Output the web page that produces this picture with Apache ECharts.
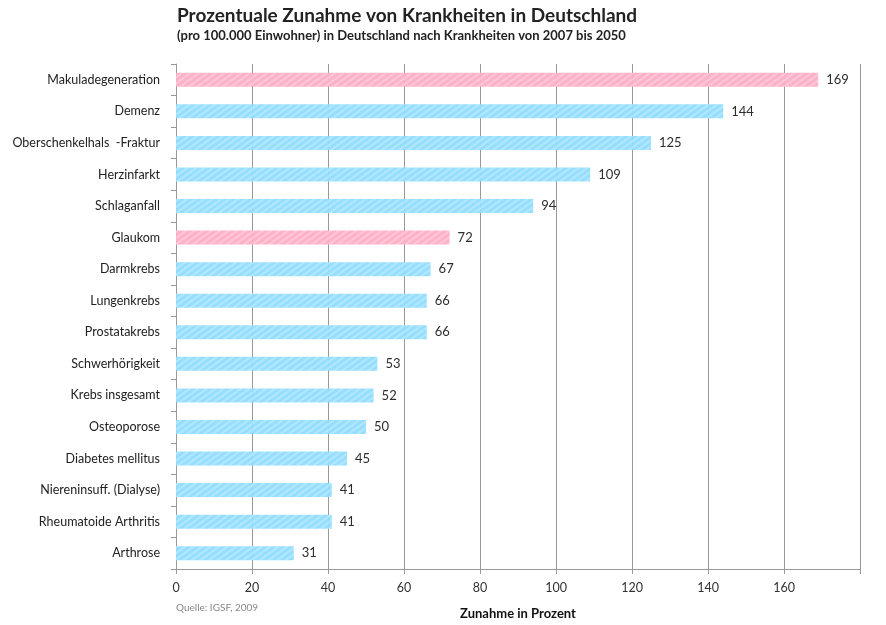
<!DOCTYPE html>
<html>
<head>
<meta charset="utf-8">
<script src="https://cdn.jsdelivr.net/npm/echarts@6/dist/echarts.min.js"></script>
<style>
  html, body { margin: 0; padding: 0; background: #fff; }
  #chart { width: 886px; height: 625px; }
</style>
</head>
<body>
<div id="chart"></div>
<script>
const categories = [
  "Makuladegeneration", "Demenz", "Oberschenkelhals  -Fraktur", "Herzinfarkt",
  "Schlaganfall", "Glaukom", "Darmkrebs", "Lungenkrebs", "Prostatakrebs",
  "Schwerhörigkeit", "Krebs insgesamt", "Osteoporose", "Diabetes mellitus",
  "Niereninsuff. (Dialyse)", "Rheumatoide Arthritis", "Arthrose"
];
const values = [169, 144, 125, 109, 94, 72, 67, 66, 66, 53, 52, 50, 45, 41, 41, 31];
const highlighted = ["Makuladegeneration", "Glaukom"];
const xTicks = [0, 20, 40, 60, 80, 100, 120, 140, 160];

const pink = "#ffadc6";
const blue = "#8fdcff";

const chart = echarts.init(document.getElementById("chart"));

// grobe Schraffur wie im Original
const hatch = {
  symbol: "rect",
  color: "rgba(255,255,255,0.3)",
  dashArrayX: [1, 0],
  dashArrayY: [2, 3],
  rotation: -Math.PI / 5
};

const option = {
  animation: false,
  title: {
    text: "Prozentuale Zunahme von Krankheiten in Deutschland",
    subtext: "(pro 100.000 Einwohner) in Deutschland nach Krankheiten von 2007 bis 2050",
    left: 172,
    top: 1,
    itemGap: 4,
    textStyle: { fontFamily: "Lato", fontSize: 19, fontWeight: "bold", color: "#222" },
    subtextStyle: { fontFamily: "Lato", fontSize: 13, fontWeight: "bold", color: "#222" }
  },
  graphic: [{
    type: "text",
    left: 176,
    top: 603,
    style: { text: "Quelle: IGSF, 2009", fontFamily: "Lato", fontSize: 10, fill: "#888" }
  }],
  grid: { left: 176, right: 26, top: 64, bottom: 54 },
  xAxis: {
    type: "value",
    min: 0,
    max: 180,
    interval: 20,
    name: "Zunahme in Prozent",
    nameLocation: "middle",
    nameGap: 38,
    nameTextStyle: { fontFamily: "Lato", fontSize: 13, fontWeight: "bold", color: "#111" },
    axisLine: { show: true, lineStyle: { color: "#999" } },
    axisTick: { show: true, length: 5, lineStyle: { color: "#999" } },
    axisLabel: {
      fontFamily: "Lato", fontSize: 12.5, color: "#333", margin: 12,
      formatter: v => xTicks.includes(v) ? String(v) : ""
    },
    splitLine: { show: true, lineStyle: { color: "#999", width: 1 } }
  },
  yAxis: {
    type: "category",
    data: categories,
    inverse: true,
    axisLine: { show: true, lineStyle: { color: "#999" } },
    axisTick: { show: true, length: 5, lineStyle: { color: "#999" } },
    axisLabel: { fontFamily: "Lato", fontSize: 12.5, color: "#222", margin: 16 }
  },
  series: [{
    type: "bar",
    barWidth: 14,
    data: values.map((v, i) => ({
      value: v,
      itemStyle: {
        color: highlighted.includes(categories[i]) ? pink : blue,
        opacity: 0.95,
        decal: hatch
      }
    })),
    label: {
      show: true,
      position: "right",
      distance: 8,
      fontFamily: "Lato",
      fontSize: 13,
      color: "#222"
    }
  }]
};

chart.setOption(option);
</script>
</body>
</html>
